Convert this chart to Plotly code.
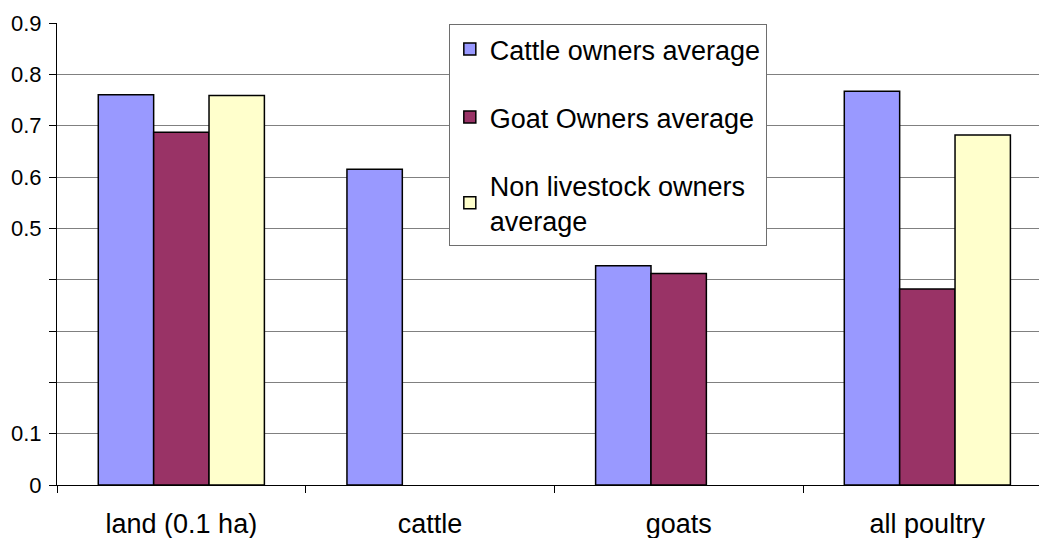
import plotly.graph_objects as go

# Average values per holding category
categories = ["land (0.1 ha)", "cattle", "goats", "all poultry"]
cattle_owners = [0.760, 0.615, 0.427, 0.767]
goat_owners = [0.687, None, 0.412, 0.382]
non_livestock_owners = [0.759, None, None, 0.682]

series_names = ["Cattle owners average", "Goat Owners average",
                "Non livestock owners<br>average"]
series_colors = ["#9999FF", "#993366", "#FFFFCC"]

y_tick_values = [0, 0.1, 0.2, 0.3, 0.4, 0.5, 0.6, 0.7, 0.8, 0.9]
y_tick_labels = ["0", "0.1", "", "", "", "0.5", "0.6", "0.7", "0.8", "0.9"]

FONT = "Arial, Liberation Sans, sans-serif"

fig = go.Figure()
for i, (name, vals, color) in enumerate(
        zip(series_names, [cattle_owners, goat_owners, non_livestock_owners], series_colors)):
    fig.add_trace(go.Bar(
        x=categories, y=vals, name=name, legendgroup=f"g{i}",
        marker=dict(color=color, line=dict(color="#000000", width=1.5)),
    ))

fig.update_layout(
    width=1039, height=538,
    margin=dict(l=57, r=0, t=23, b=53),
    paper_bgcolor="white", plot_bgcolor="white",
    font=dict(family=FONT, color="#000000"),
    barmode="group", bargap=0.332, bargroupgap=0,
    showlegend=True,
    legend=dict(
        x=0.399, y=0.998, xanchor="left", yanchor="top",
        bgcolor="white", bordercolor="#6e6e6e", borderwidth=1,
        font=dict(family=FONT, size=27, color="#000000"),
        traceorder="grouped", tracegroupgap=30, itemwidth=30,
    ),
)

fig.update_xaxes(
    range=[-0.5, 3.449],
    showline=True, linecolor="#000000", linewidth=1,
    ticks="outside", tickson="boundaries", ticklen=7, tickcolor="#000000",
    tickfont=dict(family=FONT, size=27, color="#000000"),
    ticklabelstandoff=15,
    showgrid=False,
)

fig.update_yaxes(
    range=[0, 0.9],
    tickvals=y_tick_values, ticktext=y_tick_labels,
    showline=True, linecolor="#000000", linewidth=1,
    ticks="outside", ticklen=7, tickcolor="#000000",
    tickfont=dict(family=FONT, size=22, color="#000000"),
    ticklabelstandoff=3,
    showgrid=True, gridcolor="#808080", gridwidth=1,
    zeroline=False,
)

fig.write_html("out.html")
